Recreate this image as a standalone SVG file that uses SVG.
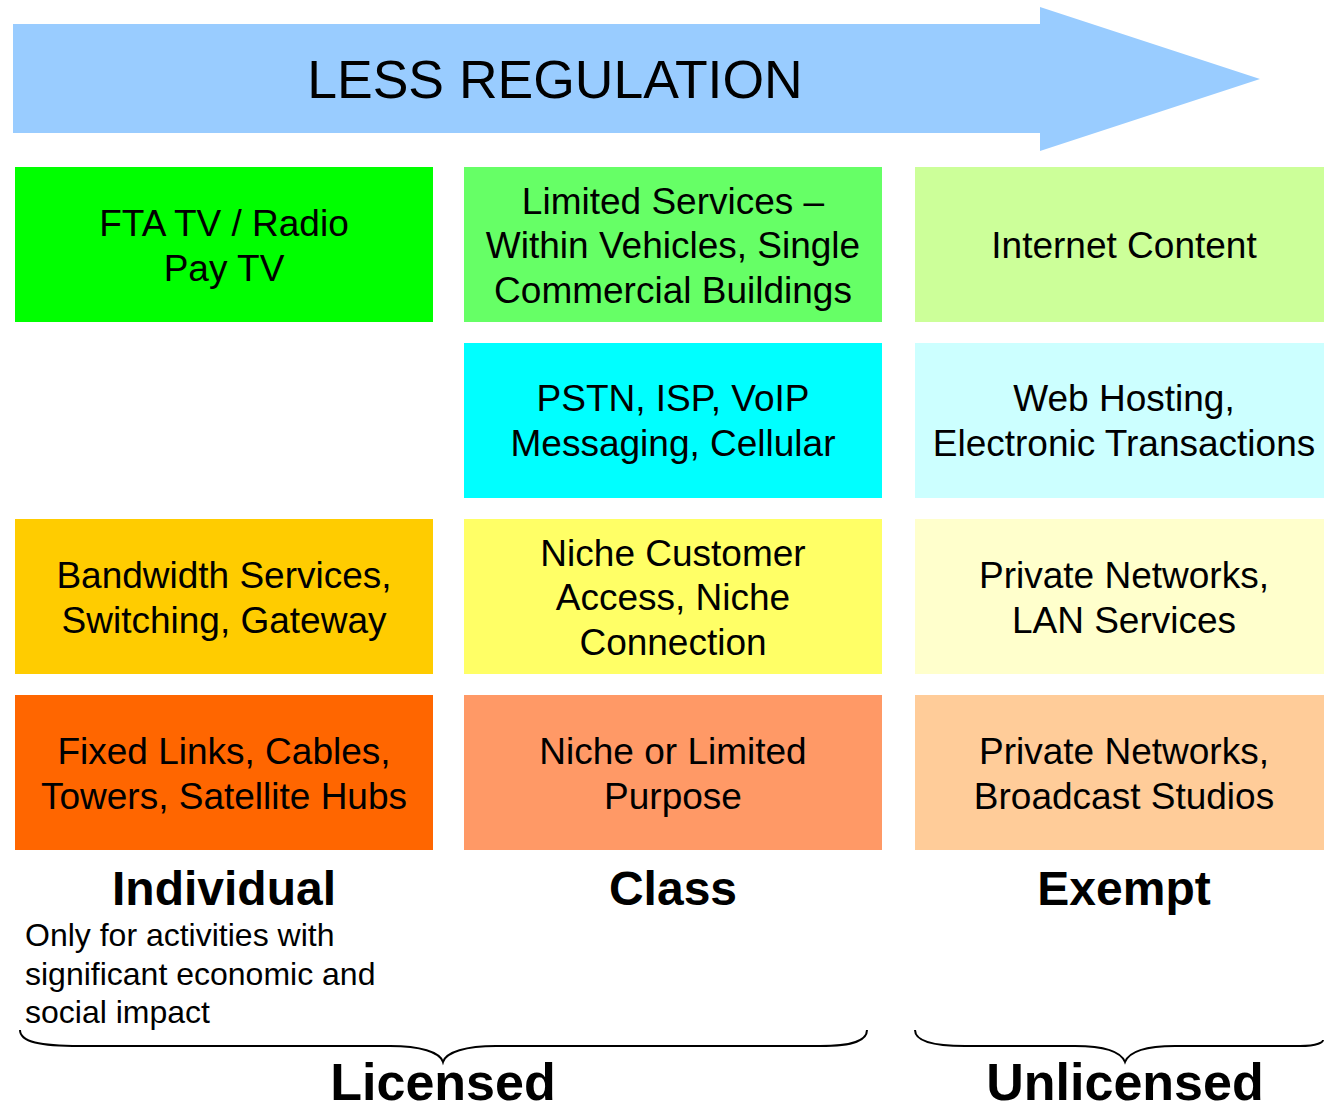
<svg xmlns="http://www.w3.org/2000/svg" width="1324" height="1112" viewBox="0 0 1324 1112">
<style>
.t{font-family:"Liberation Sans",Arial,sans-serif;font-size:37px;fill:#000;text-anchor:middle}
.h{font-family:"Liberation Sans",Arial,sans-serif;font-size:48px;font-weight:bold;fill:#000;text-anchor:middle}
.b{font-family:"Liberation Sans",Arial,sans-serif;font-size:52px;font-weight:bold;fill:#000;text-anchor:middle}
.n{font-family:"Liberation Sans",Arial,sans-serif;font-size:32px;fill:#000}
.br{fill:none;stroke:#000;stroke-width:2}
</style>
<rect width="1324" height="1112" fill="#fff"/>
<g id="arrow">
<polygon points="13,24 1040,24 1040,7 1260,79 1040,151 1040,133 13,133" fill="#99CCFF"/>
<text x="555" y="98" font-family="Liberation Sans,Arial,sans-serif" font-size="53.5" text-anchor="middle">LESS REGULATION</text>
</g>
<g id="fta"><rect x="15" y="167" width="418" height="155" fill="#00FF00"/><text class="t"><tspan x="224" y="236">FTA TV / Radio</tspan><tspan x="224" y="281">Pay TV</tspan></text></g>
<g id="limited"><rect x="464" y="167" width="418" height="155" fill="#66FF66"/><text class="t"><tspan x="673" y="214">Limited Services –</tspan><tspan x="673" y="258">Within Vehicles, Single</tspan><tspan x="673" y="303">Commercial Buildings</tspan></text></g>
<g id="internet"><rect x="915" y="167" width="409" height="155" fill="#CCFF99"/><text class="t"><tspan x="1124" y="258">Internet Content</tspan></text></g>
<g id="pstn"><rect x="464" y="343" width="418" height="155" fill="#00FFFF"/><text class="t"><tspan x="673" y="411">PSTN, ISP, VoIP</tspan><tspan x="673" y="456">Messaging, Cellular</tspan></text></g>
<g id="webhosting"><rect x="915" y="343" width="409" height="155" fill="#CCFFFF"/><text class="t"><tspan x="1124" y="411">Web Hosting,</tspan><tspan x="1124" y="456">Electronic Transactions</tspan></text></g>
<g id="bandwidth"><rect x="15" y="519" width="418" height="155" fill="#FFCC00"/><text class="t"><tspan x="224" y="588">Bandwidth Services,</tspan><tspan x="224" y="633">Switching, Gateway</tspan></text></g>
<g id="niche"><rect x="464" y="519" width="418" height="155" fill="#FFFF66"/><text class="t"><tspan x="673" y="566">Niche Customer</tspan><tspan x="673" y="610">Access, Niche</tspan><tspan x="673" y="655">Connection</tspan></text></g>
<g id="lan"><rect x="915" y="519" width="409" height="155" fill="#FFFFCC"/><text class="t"><tspan x="1124" y="588">Private Networks,</tspan><tspan x="1124" y="633">LAN Services</tspan></text></g>
<g id="fixed"><rect x="15" y="695" width="418" height="155" fill="#FF6600"/><text class="t"><tspan x="224" y="764">Fixed Links, Cables,</tspan><tspan x="224" y="809">Towers, Satellite Hubs</tspan></text></g>
<g id="nichelimited"><rect x="464" y="695" width="418" height="155" fill="#FF9966"/><text class="t"><tspan x="673" y="764">Niche or Limited</tspan><tspan x="673" y="809">Purpose</tspan></text></g>
<g id="broadcast"><rect x="915" y="695" width="409" height="155" fill="#FFCC99"/><text class="t"><tspan x="1124" y="764">Private Networks,</tspan><tspan x="1124" y="809">Broadcast Studios</tspan></text></g>
<g id="individual"><text class="h" x="224" y="905">Individual</text>
<text class="n"><tspan x="25" y="946">Only for activities with</tspan><tspan x="25" y="985">significant economic and</tspan><tspan x="25" y="1023">social impact</tspan></text></g>
<g id="class"><text class="h" x="673" y="905">Class</text></g>
<g id="exempt"><text class="h" x="1124" y="905">Exempt</text></g>
<g id="connectors">
<path class="br" d="M20,1030 C20,1042 40,1046 80,1046 L390,1046 C420,1046 440,1052 443,1062 C446,1052 466,1046 496,1046 L820,1046 C855,1046 867,1040 867,1030"/>
<path class="br" d="M915,1030 C915,1040 930,1046 965,1046 L1075,1046 C1105,1046 1121,1052 1125,1062 C1129,1052 1145,1046 1175,1046 L1300,1046 C1318,1046 1323,1042 1323,1040"/>
</g>
<g id="licensed"><text class="b" x="443" y="1100">Licensed</text></g>
<g id="unlicensed"><text class="b" x="1125" y="1100">Unlicensed</text></g>
</svg>
